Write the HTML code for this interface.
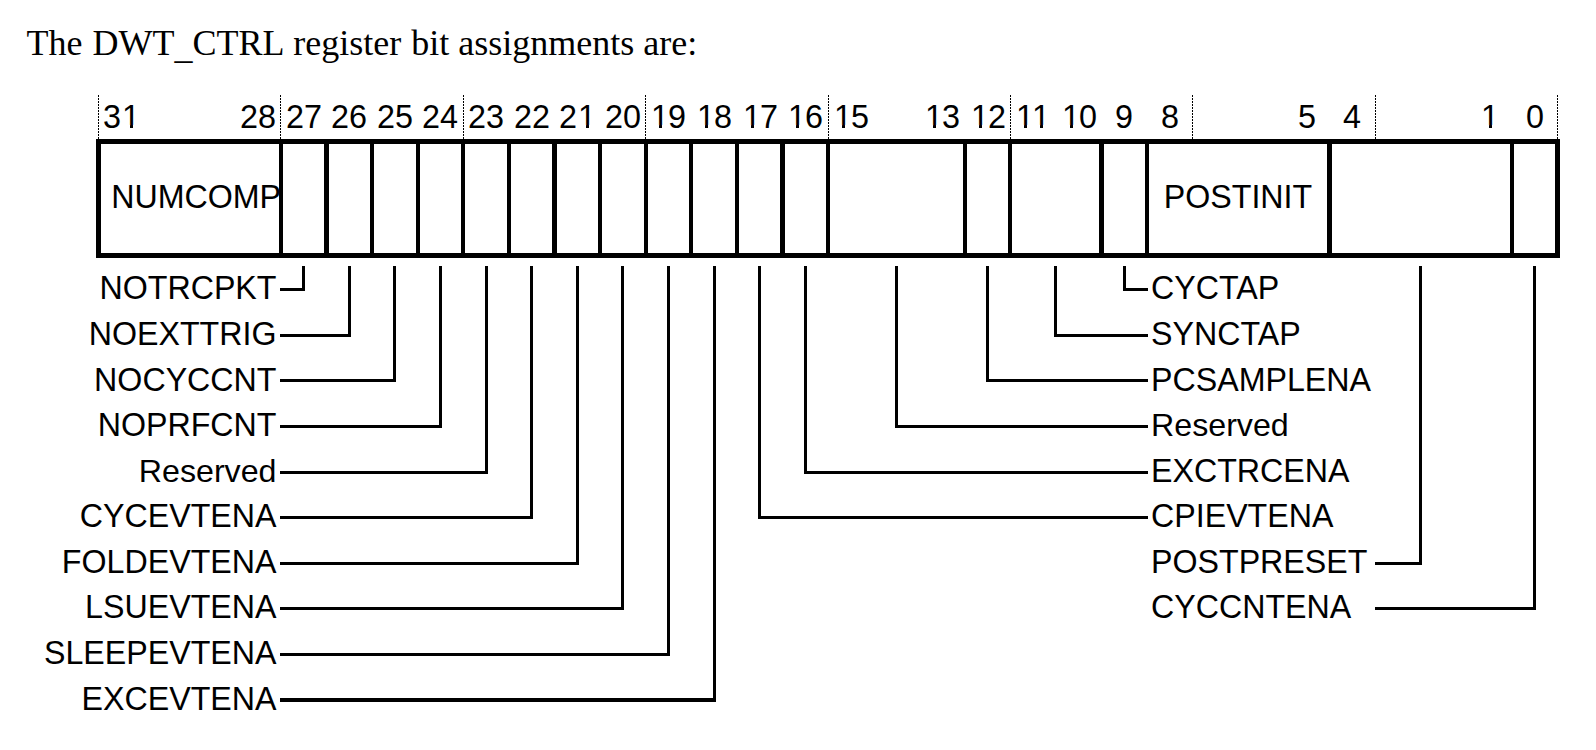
<!DOCTYPE html>
<html><head><meta charset="utf-8"><title>DWT_CTRL register bit assignments</title>
<style>
html,body{margin:0;padding:0;background:#fff;}
body{width:1596px;height:750px;position:relative;overflow:hidden;font-family:"Liberation Sans",sans-serif;color:#000;}
.t{position:absolute;white-space:nowrap;font-size:32.2px;line-height:32px;height:32px;}
.t{transform:scaleY(1.04);transform-origin:0 27.16px;}
.n{text-align:left;font-size:32.365px;}
.c{text-align:center;width:200px;}
.lc{transform:none;}
.o{position:relative;left:1px;}
.o::before,.o::after{content:"";position:absolute;background:#fff;top:25.7px;height:4px;width:6px;}
.o::before{left:1px;width:7px;}
.o::after{left:11px;width:7px;}
.l{text-align:right;width:280px;}
.r{text-align:left;}
.title{position:absolute;white-space:nowrap;font-family:"Liberation Serif",serif;font-size:36px;line-height:36px;left:26.4px;top:24.5px;}
.title span{word-spacing:1.1px;}
.title .u{position:relative;top:3.5px;}
.b{position:absolute;background:#000;}
.d{position:absolute;width:1px;top:95px;height:44px;background:repeating-linear-gradient(to bottom,#000 0,#000 2px,transparent 2px,transparent 3px);}
</style></head><body>
<div class="title"><span>The DWT<span class="u">_</span>CTRL register </span>bit assignments are:</div>
<div class="d" style="left:98px"></div>
<div class="d" style="left:280px"></div>
<div class="d" style="left:463px"></div>
<div class="d" style="left:645px"></div>
<div class="d" style="left:828px"></div>
<div class="d" style="left:1010px"></div>
<div class="d" style="left:1192px"></div>
<div class="d" style="left:1375px"></div>
<div class="d" style="left:1557px"></div>
<div class="b" style="left:96px;top:139px;width:1464px;height:5px"></div>
<div class="b" style="left:96px;top:253px;width:1464px;height:5px"></div>
<div class="b" style="left:96px;top:139px;width:5px;height:119px"></div>
<div class="b" style="left:1555px;top:139px;width:5px;height:119px"></div>
<div class="b" style="left:279px;top:141px;width:4px;height:115px"></div>
<div class="b" style="left:324px;top:141px;width:5px;height:115px"></div>
<div class="b" style="left:370px;top:141px;width:4px;height:115px"></div>
<div class="b" style="left:416px;top:141px;width:4px;height:115px"></div>
<div class="b" style="left:461px;top:141px;width:4px;height:115px"></div>
<div class="b" style="left:507px;top:141px;width:4px;height:115px"></div>
<div class="b" style="left:552px;top:141px;width:5px;height:115px"></div>
<div class="b" style="left:598px;top:141px;width:4px;height:115px"></div>
<div class="b" style="left:644px;top:141px;width:4px;height:115px"></div>
<div class="b" style="left:689px;top:141px;width:4px;height:115px"></div>
<div class="b" style="left:735px;top:141px;width:4px;height:115px"></div>
<div class="b" style="left:780px;top:141px;width:5px;height:115px"></div>
<div class="b" style="left:826px;top:141px;width:4px;height:115px"></div>
<div class="b" style="left:963px;top:141px;width:4px;height:115px"></div>
<div class="b" style="left:1008px;top:141px;width:4px;height:115px"></div>
<div class="b" style="left:1099px;top:141px;width:5px;height:115px"></div>
<div class="b" style="left:1145px;top:141px;width:4px;height:115px"></div>
<div class="b" style="left:1327px;top:141px;width:5px;height:115px"></div>
<div class="b" style="left:1510px;top:141px;width:4px;height:115px"></div>
<div class="t n" style="left:103px;top:100.6px">3<span class="o">1</span></div>
<div class="t n" style="left:240px;top:100.6px">28</div>
<div class="t n" style="left:286px;top:100.6px">27</div>
<div class="t n" style="left:331px;top:100.6px">26</div>
<div class="t n" style="left:377px;top:100.6px">25</div>
<div class="t n" style="left:422px;top:100.6px">24</div>
<div class="t n" style="left:468px;top:100.6px">23</div>
<div class="t n" style="left:514px;top:100.6px">22</div>
<div class="t n" style="left:559px;top:100.6px">2<span class="o">1</span></div>
<div class="t n" style="left:605px;top:100.6px">20</div>
<div class="t n" style="left:650px;top:100.6px"><span class="o">1</span>9</div>
<div class="t n" style="left:696px;top:100.6px"><span class="o">1</span>8</div>
<div class="t n" style="left:742px;top:100.6px"><span class="o">1</span>7</div>
<div class="t n" style="left:787px;top:100.6px"><span class="o">1</span>6</div>
<div class="t n" style="left:833px;top:100.6px"><span class="o">1</span>5</div>
<div class="t n" style="left:924px;top:100.6px"><span class="o">1</span>3</div>
<div class="t n" style="left:970px;top:100.6px"><span class="o">1</span>2</div>
<div class="t n" style="left:1015px;top:100.6px"><span class="o" style="margin-right:-2px">1</span><span class="o">1</span></div>
<div class="t n" style="left:1061px;top:100.6px"><span class="o">1</span>0</div>
<div class="t n" style="left:1115px;top:100.6px">9</div>
<div class="t n" style="left:1161px;top:100.6px">8</div>
<div class="t n" style="left:1298px;top:100.6px">5</div>
<div class="t n" style="left:1343px;top:100.6px">4</div>
<div class="t n" style="left:1480px;top:100.6px"><span class="o">1</span></div>
<div class="t n" style="left:1526px;top:100.6px">0</div>
<div class="t r" style="left:111.2px;top:180.6px">NUMCOMP</div>
<div class="t c" style="left:1138.0px;top:180.6px">POSTINIT</div>
<div class="t l" style="left:-3.5px;top:271.7px">NOTRCPKT</div>
<div class="b" style="left:280px;top:288px;width:25px;height:3px"></div>
<div class="b" style="left:302px;top:266px;width:3px;height:25px"></div>
<div class="t l" style="left:-3.5px;top:317.7px">NOEXTTRIG</div>
<div class="b" style="left:280px;top:334px;width:71px;height:3px"></div>
<div class="b" style="left:348px;top:266px;width:3px;height:71px"></div>
<div class="t l" style="left:-3.5px;top:363.7px">NOCYCCNT</div>
<div class="b" style="left:280px;top:379px;width:116px;height:3px"></div>
<div class="b" style="left:393px;top:266px;width:3px;height:116px"></div>
<div class="t l" style="left:-3.5px;top:408.7px">NOPRFCNT</div>
<div class="b" style="left:280px;top:425px;width:162px;height:3px"></div>
<div class="b" style="left:439px;top:266px;width:3px;height:162px"></div>
<div class="t l lc" style="left:-3.5px;top:454.7px">Reserved</div>
<div class="b" style="left:280px;top:471px;width:208px;height:3px"></div>
<div class="b" style="left:485px;top:266px;width:3px;height:208px"></div>
<div class="t l" style="left:-3.5px;top:499.7px">CYCEVTENA</div>
<div class="b" style="left:280px;top:516px;width:253px;height:3px"></div>
<div class="b" style="left:530px;top:266px;width:3px;height:253px"></div>
<div class="t l" style="left:-3.5px;top:545.7px">FOLDEVTENA</div>
<div class="b" style="left:280px;top:562px;width:299px;height:3px"></div>
<div class="b" style="left:576px;top:266px;width:3px;height:299px"></div>
<div class="t l" style="left:-3.5px;top:590.7px">LSUEVTENA</div>
<div class="b" style="left:280px;top:607px;width:344px;height:3px"></div>
<div class="b" style="left:621px;top:266px;width:3px;height:344px"></div>
<div class="t l" style="left:-3.5px;top:636.7px">SLEEPEVTENA</div>
<div class="b" style="left:280px;top:653px;width:390px;height:3px"></div>
<div class="b" style="left:667px;top:266px;width:3px;height:390px"></div>
<div class="t l" style="left:-3.5px;top:682.7px">EXCEVTENA</div>
<div class="b" style="left:280px;top:698px;width:436px;height:4px"></div>
<div class="b" style="left:713px;top:266px;width:3px;height:436px"></div>
<div class="t r" style="left:1151.0px;top:271.7px">CYCTAP</div>
<div class="b" style="left:1123px;top:288px;width:25px;height:3px"></div>
<div class="b" style="left:1123px;top:266px;width:3px;height:25px"></div>
<div class="t r" style="left:1151.0px;top:317.7px">SYNCTAP</div>
<div class="b" style="left:1054px;top:334px;width:94px;height:3px"></div>
<div class="b" style="left:1054px;top:266px;width:3px;height:71px"></div>
<div class="t r" style="left:1151.0px;top:363.7px">PCSAMPLENA</div>
<div class="b" style="left:986px;top:379px;width:162px;height:3px"></div>
<div class="b" style="left:986px;top:266px;width:3px;height:116px"></div>
<div class="t r lc" style="left:1151.0px;top:408.7px">Reserved</div>
<div class="b" style="left:895px;top:425px;width:253px;height:3px"></div>
<div class="b" style="left:895px;top:266px;width:3px;height:162px"></div>
<div class="t r" style="left:1151.0px;top:454.7px">EXCTRCENA</div>
<div class="b" style="left:804px;top:471px;width:344px;height:3px"></div>
<div class="b" style="left:804px;top:266px;width:3px;height:208px"></div>
<div class="t r" style="left:1151.0px;top:499.7px">CPIEVTENA</div>
<div class="b" style="left:758px;top:516px;width:390px;height:3px"></div>
<div class="b" style="left:758px;top:266px;width:3px;height:253px"></div>
<div class="t r" style="left:1151.0px;top:545.7px">POSTPRESET</div>
<div class="b" style="left:1375px;top:562px;width:47px;height:3px"></div>
<div class="b" style="left:1419px;top:266px;width:3px;height:299px"></div>
<div class="t r" style="left:1151.0px;top:590.7px">CYCCNTENA</div>
<div class="b" style="left:1375px;top:607px;width:161px;height:3px"></div>
<div class="b" style="left:1533px;top:266px;width:3px;height:344px"></div>
</body></html>
